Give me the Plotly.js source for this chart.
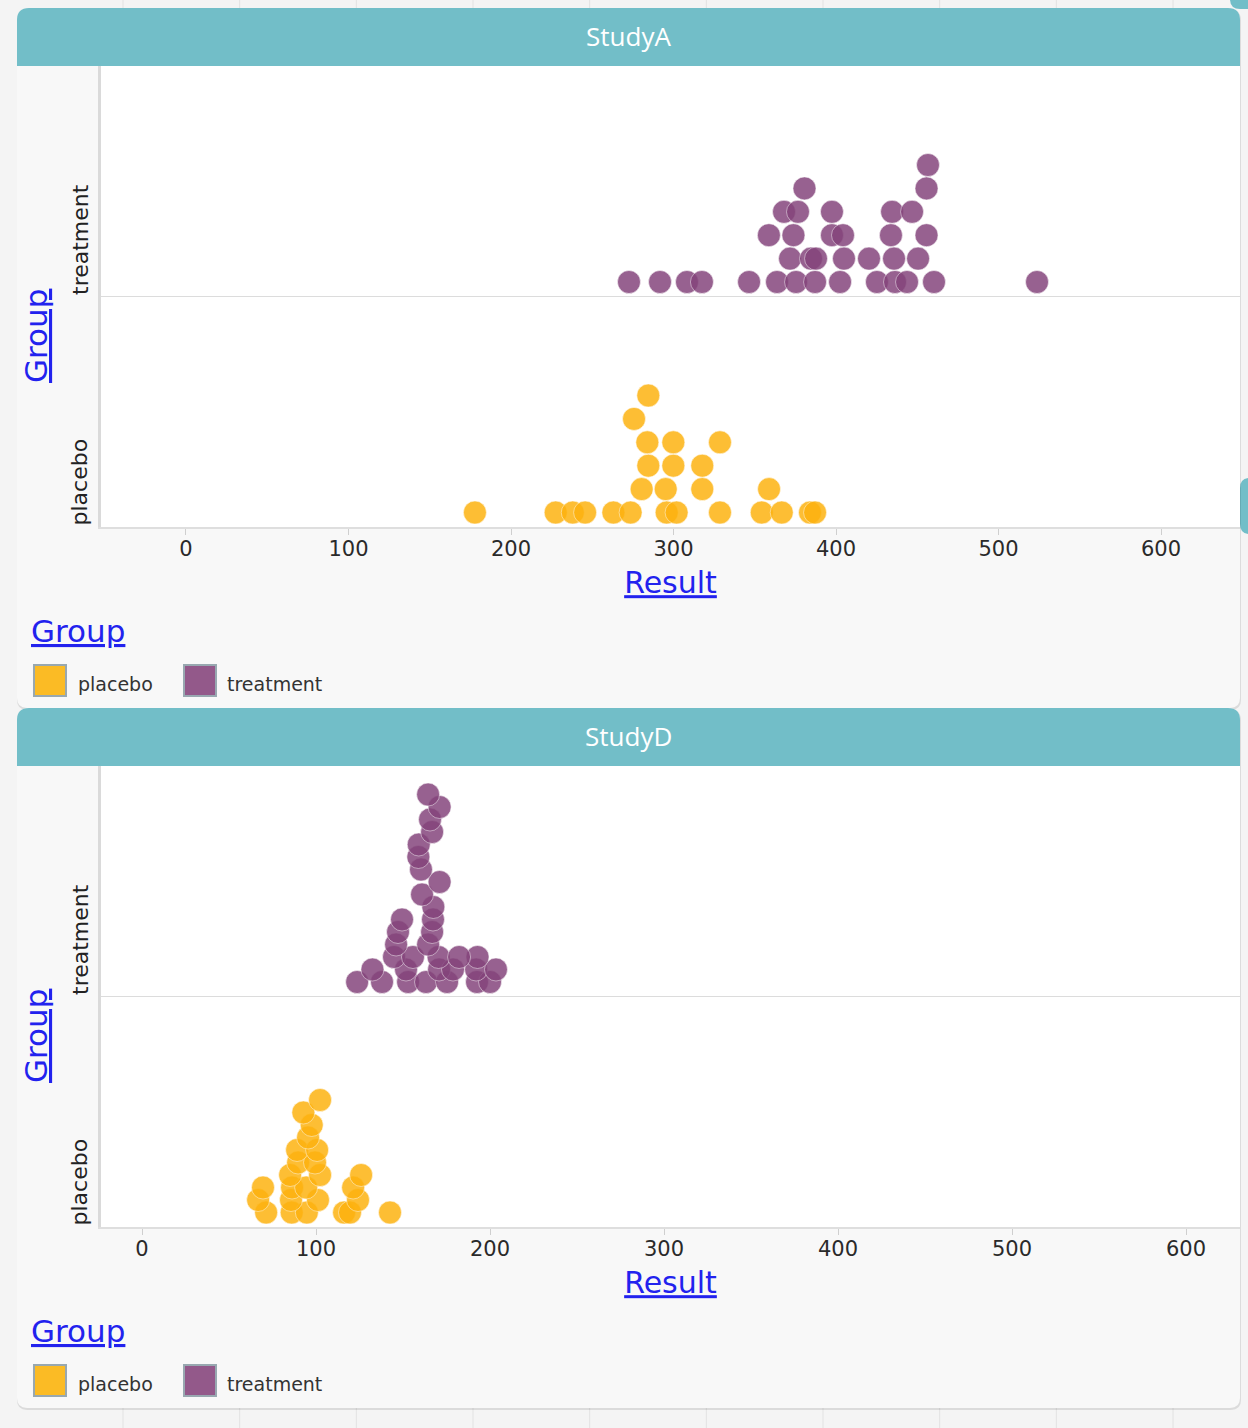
<!DOCTYPE html>
<html>
<head>
<meta charset="utf-8">
<script src="https://cdn.plot.ly/plotly-3.0.1.min.js"></script>
<style>
html,body{margin:0;padding:0;background:#f4f4f4;}
#chart{width:1248px;height:1428px;}
</style>
</head>
<body>
<div id="chart"></div>
<script>
// ---------------- data ----------------
const studies = ['StudyA', 'StudyD'];
const groups = ['placebo', 'treatment'];
const xTickVals = [0, 100, 200, 300, 400, 500, 600];
const xTitle = 'Result';
const yTitle = 'Group';
const legendTitle = 'Group';

// values in case order
const studyA_placebo = [177.8, 227.5, 238.0, 245.6, 263.0, 273.6, 295.8, 301.9, 328.6, 354.3, 366.6, 384.0, 387.1,
  280.4, 295.2, 317.7, 358.8,
  284.5, 299.9, 317.7,
  283.9, 299.9, 328.6,
  275.7,
  284.5];
const studyA_treatment = [272.6, 291.7, 308.3, 317.5, 346.5, 363.7, 375.4, 387.1, 402.5, 425.2, 436.3, 443.7, 460.3, 523.7,
  371.7, 384.6, 387.7, 404.9, 420.3, 435.7, 450.5,
  358.7, 373.8, 397.5, 404.3, 433.8, 455.7,
  368.0, 376.6, 397.5, 434.5, 446.8,
  380.6, 455.7,
  456.6];
const studyD_placebo = [71.3, 86.0, 94.7, 116.1, 119.5, 142.5,
  66.7, 85.6, 101.1, 124.1,
  69.5, 86.2, 94.3, 121.3,
  85.1, 102.3, 125.9,
  89.7, 99.4,
  89.1, 100.6,
  95.4, 97.5, 92.7, 102.3];
const studyD_treatment = [123.6, 137.9, 152.9, 163.2, 175.3, 192.5, 200.0,
  132.4, 151.7, 170.7, 178.7, 192.0, 203.4,
  144.8, 155.7, 170.4, 192.8,
  146.0, 164.4, 182.2,
  147.1, 166.7,
  149.4, 167.2,
  167.4, 160.9, 171.0, 160.3, 158.8, 159.0, 166.7, 165.5, 171.0, 164.4];

// ---------------- layout constants ----------------
const W = 1248, H = 1428;
const PLOT_L = 101, PLOT_R = 1240;
const DIAM = 23, STEP_MAX = 23.4, BASE_OFF = 14.5;
const panels = [
  {study: studies[0], off: 0,   xRange: [-52.3, 648.6], binAnchor: -52.3, data: [studyA_placebo, studyA_treatment]},
  {study: studies[1], off: 700, xRange: [-23.6, 631.0], binAnchor: 158.3, data: [studyD_placebo, studyD_treatment]}
];
const dotColor = {placebo: 'rgb(253,178,14)', treatment: 'rgb(132,68,123)'};
const swatchColor = {placebo: '#fbbb25', treatment: '#93598a'};
const TEAL = '#72bec8';
const BLUE = '#2222ee';
const FONT = 'DejaVu Sans';

function fx(x){ return (x / W).toFixed(5); }
function fy(y){ return (1 - y / H).toFixed(5); }
function rr(x0, y0, x1, y1, rt, rb){
  return `M${fx(x0)},${fy(y0+rt)} Q${fx(x0)},${fy(y0)} ${fx(x0+rt)},${fy(y0)} L${fx(x1-rt)},${fy(y0)} Q${fx(x1)},${fy(y0)} ${fx(x1)},${fy(y0+rt)} L${fx(x1)},${fy(y1-rb)} Q${fx(x1)},${fy(y1)} ${fx(x1-rb)},${fy(y1)} L${fx(x0+rb)},${fy(y1)} Q${fx(x0)},${fy(y1)} ${fx(x0)},${fy(y1-rb)} Z`;
}

function stackLevels(values, anchor, w){
  const counts = {};
  return values.map(v => {
    const b = Math.floor((v - anchor) / w);
    const l = counts[b] || 0;
    counts[b] = l + 1;
    return l;
  });
}

const traces = [];
const shapes = [];
const annotations = [];
const layout = {
  width: W, height: H,
  margin: {l: 0, r: 0, t: 0, b: 0, pad: 0},
  paper_bgcolor: '#f4f4f4',
  plot_bgcolor: 'rgba(0,0,0,0)',
  showlegend: false,
  font: {family: FONT, color: '#333'}
};

// background grid of page
for (let k = 0; k < 10; k++) {
  const gx = 123 + 116.67 * k;
  shapes.push({type: 'line', xref: 'paper', yref: 'paper', x0: fx(gx), x1: fx(gx), y0: 0, y1: 1,
    line: {color: '#e2e2e2', width: 1}, layer: 'below'});
}
// bits of other windows at the right
shapes.push({type: 'path', xref: 'paper', yref: 'paper', layer: 'below', path: rr(1230, -14, 1262, 9, 10, 10), fillcolor: TEAL, line: {width: 0}});
shapes.push({type: 'path', xref: 'paper', yref: 'paper', layer: 'below', path: rr(1240, 478, 1262, 534, 10, 10), fillcolor: TEAL, line: {width: 0}});

panels.forEach((p, pi) => {
  const off = p.off;
  const top = 66 + off, bottom = 527 + off;
  const bandPx = (bottom - top) / 2;
  const xs = pi === 0 ? '' : '2';
  const pxPerUnit = (PLOT_R - PLOT_L) / (p.xRange[1] - p.xRange[0]);
  const w = DIAM / pxPerUnit;
  const levels = p.data.map(vals => stackLevels(vals, p.binAnchor, w));
  const maxStack = Math.max(...levels.map(l => Math.max(...l) + 1));
  const step = Math.min(STEP_MAX, (bandPx - 43) / Math.max(1, maxStack - 1));

  groups.forEach((g, gi) => {
    const vals = p.data[gi];
    traces.push({
      type: 'scatter', mode: 'markers', name: g,
      x: vals,
      y: levels[gi].map(l => gi + (BASE_OFF + l * step) / bandPx),
      xaxis: 'x' + xs, yaxis: 'y' + xs,
      marker: {size: DIAM, color: dotColor[g], opacity: 0.84,
               line: {width: 1, color: 'rgba(255,255,255,0.55)'}},
      hoverinfo: 'x+name'
    });
  });

  // card, shadow, header, plot area
  shapes.push({type: 'path', xref: 'paper', yref: 'paper', layer: 'below', path: rr(17, 9 + off, 1241, 710 + off, 12, 10), fillcolor: 'rgba(0,0,0,0.10)', line: {width: 0}});
  shapes.push({type: 'path', xref: 'paper', yref: 'paper', layer: 'below', path: rr(17, 8 + off, 1240, 708 + off, 12, 10), fillcolor: '#f8f8f8', line: {width: 0}});
  shapes.push({type: 'path', xref: 'paper', yref: 'paper', layer: 'below', path: rr(17, 8 + off, 1240, 66 + off, 12, 0), fillcolor: TEAL, line: {width: 0}});
  shapes.push({type: 'rect', xref: 'paper', yref: 'paper', layer: 'below', x0: fx(PLOT_L), x1: fx(PLOT_R), y0: fy(bottom), y1: fy(top), fillcolor: '#ffffff', line: {width: 0}});
  // legend swatches
  shapes.push({type: 'rect', xref: 'paper', yref: 'paper', layer: 'below', x0: fx(34), x1: fx(66), y0: fy(696 + off), y1: fy(665 + off), fillcolor: swatchColor.placebo, line: {color: '#98a8b0', width: 2}});
  shapes.push({type: 'rect', xref: 'paper', yref: 'paper', layer: 'below', x0: fx(184), x1: fx(216), y0: fy(696 + off), y1: fy(665 + off), fillcolor: swatchColor.treatment, line: {color: '#98a8b0', width: 2}});

  layout['xaxis' + xs] = {
    domain: [PLOT_L / W, PLOT_R / W], anchor: 'y' + xs, range: p.xRange,
    tickvals: xTickVals, ticktext: xTickVals.map(String),
    ticks: 'outside', ticklen: 6, tickcolor: '#cfcfcf', tickwidth: 1,
    ticklabelstandoff: -4,
    tickfont: {family: FONT, size: 21, color: '#2a2a2a'},
    showgrid: false, zeroline: false, showline: true, linecolor: '#dedede', linewidth: 2,
    title: {text: '<u>' + xTitle + '</u>', font: {family: FONT, size: 30, color: BLUE}, standoff: 12},
    fixedrange: true
  };
  layout['yaxis' + xs] = {
    domain: [1 - bottom / H, 1 - top / H], anchor: 'x' + xs, range: [0, 2],
    tickvals: [1], showticklabels: false, ticks: '',
    showgrid: true, gridcolor: '#dcdcdc', gridwidth: 1,
    zeroline: false, showline: true, linecolor: '#dadada', linewidth: 3,
    fixedrange: true
  };

  annotations.push({text: p.study, xref: 'paper', yref: 'paper', x: fx(628), y: fy(36 + off), showarrow: false,
    xanchor: 'center', yanchor: 'middle', font: {family: 'Open Sans', size: 26, color: '#ffffff'}});
  groups.forEach((g, gi) => {
    annotations.push({text: g, xref: 'paper', yref: 'y' + xs, x: fx(80), y: gi, showarrow: false,
      textangle: -90, xanchor: 'center', yanchor: 'bottom', font: {family: FONT, size: 22, color: '#222'}});
  });
  annotations.push({text: '<u>' + yTitle + '</u>', xref: 'paper', yref: 'paper', x: fx(36), y: fy(336 + off), showarrow: false,
    textangle: -90, xanchor: 'center', yanchor: 'middle', font: {family: FONT, size: 31, color: BLUE}});
  annotations.push({text: '<u>' + legendTitle + '</u>', xref: 'paper', yref: 'paper', x: fx(29), y: fy(631 + off), showarrow: false,
    xanchor: 'left', yanchor: 'middle', font: {family: FONT, size: 31, color: BLUE}});
  annotations.push({text: groups[0], xref: 'paper', yref: 'paper', x: fx(76), y: fy(684 + off), showarrow: false,
    xanchor: 'left', yanchor: 'middle', font: {family: FONT, size: 19, color: '#333'}});
  annotations.push({text: groups[1], xref: 'paper', yref: 'paper', x: fx(225), y: fy(684 + off), showarrow: false,
    xanchor: 'left', yanchor: 'middle', font: {family: FONT, size: 19, color: '#333'}});
});

layout.shapes = shapes;
layout.annotations = annotations;

Plotly.newPlot('chart', traces, layout, {staticPlot: true, displayModeBar: false});
</script>
</body>
</html>
